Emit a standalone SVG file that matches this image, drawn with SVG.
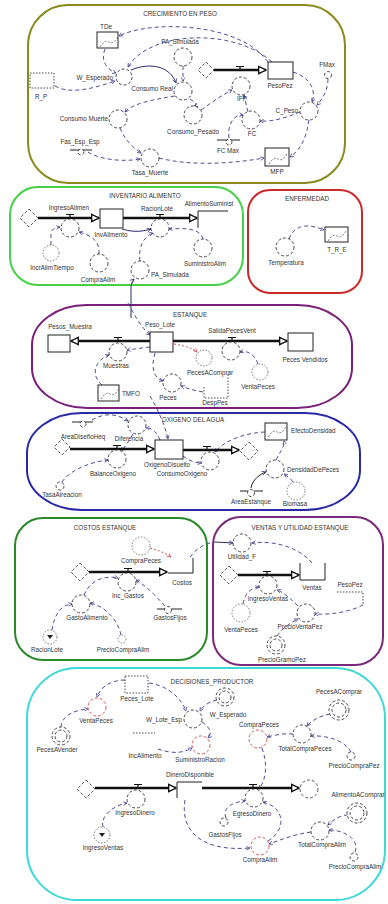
<svg xmlns="http://www.w3.org/2000/svg" xmlns:xlink="http://www.w3.org/1999/xlink" width="388" height="904" viewBox="0 0 388 904">
<style>
.box{fill:none;stroke-width:2}
.t{font-family:"Liberation Sans",Arial,sans-serif;font-size:6.3px;fill:#333;text-anchor:middle}
.s{text-anchor:start}
.e{text-anchor:end}
.aux{fill:#fff;stroke:#333;stroke-width:0.9;stroke-dasharray:3 2}
.gh{fill:#fff;stroke:#555;stroke-width:0.8;stroke-dasharray:1.5 1.5}
.red{stroke:#d04848}
.stock{fill:#fff;stroke:#222;stroke-width:1}
.open{fill:none;stroke:#222;stroke-width:1}
.pipe{fill:none;stroke:#111;stroke-width:2.3}
.valve{fill:none;stroke:#111;stroke-width:1.2}
.cloud{fill:#fff;stroke:#444;stroke-width:0.9;stroke-dasharray:3 2}
.link{fill:none;stroke:#3b3b8c;stroke-width:0.9;stroke-dasharray:4 3}
.rl{fill:none;stroke:#cc4444;stroke-width:0.9;stroke-dasharray:2 2}
.solid{fill:none;stroke:#2a2a6a;stroke-width:1}
.dot{fill:none;stroke:#333;stroke-width:0.9;stroke-dasharray:1.5 1.5}
.gr{fill:#fff;stroke:#222;stroke-width:1}
.grc{fill:none;stroke:#444;stroke-width:0.7;stroke-dasharray:2 1.5}
.con{fill:none;stroke:#222;stroke-width:1}
</style>
<defs>
<marker id="a" viewBox="0 0 10 10" refX="9" refY="5" markerWidth="5" markerHeight="5" orient="auto"><path d="M1,1 L9,5 L1,9" fill="none" stroke="#3b3b8c" stroke-width="1.6"/></marker>
<marker id="ar" viewBox="0 0 10 10" refX="9" refY="5" markerWidth="5" markerHeight="5" orient="auto"><path d="M1,1 L9,5 L1,9" fill="none" stroke="#cc4444" stroke-width="1.6"/></marker>
<marker id="p" viewBox="0 0 10 10" refX="9" refY="5" markerWidth="4" markerHeight="4" orient="auto"><path d="M1,1 L9,5 L1,9 z" fill="#fff" stroke="#111" stroke-width="1.5"/></marker>
<path id="v" d="M-4,-3.5 H4 M0,-3.5 V0"/>
<path id="gc" d="M3,13 Q8,5 12,8 T21,3"/>
</defs>

<!-- Section boxes -->
<g id="sec-crecimiento"><rect class="box" x="28" y="5" width="317" height="178" rx="40" ry="40" stroke="#8a8a1e"/><text class="t" x="180" y="16">CRECIMIENTO EN PESO</text></g>
<g id="sec-inventario"><rect class="box" x="10" y="187" width="233" height="98" rx="28" ry="28" stroke="#48d048"/><text class="t" x="145" y="198">INVENTARIO ALIMENTO</text></g>
<g id="sec-enfermedad"><rect class="box" x="248" y="190" width="114" height="103" rx="22" ry="22" stroke="#cc2a2a"/><text class="t" x="307" y="201">ENFERMEDAD</text></g>
<g id="sec-estanque"><rect class="box" x="32" y="305" width="320" height="103" rx="55" ry="40" stroke="#7a1f7a"/><text class="t" x="190" y="317">ESTANQUE</text></g>
<g id="sec-oxigeno"><rect class="box" x="27" y="413" width="333" height="97" rx="55" ry="40" stroke="#2a2aa8"/><text class="t" x="193" y="422">OXIGENO DEL AGUA</text></g>
<g id="sec-costos"><rect class="box" x="15" y="518" width="192" height="142" rx="28" ry="28" stroke="#2a8a2a"/><text class="t" x="105" y="530">COSTOS ESTANQUE</text></g>
<g id="sec-ventas"><rect class="box" x="213" y="517" width="170" height="148" rx="28" ry="28" stroke="#7a2a7a"/><text class="t" x="300" y="530">VENTAS Y UTILIDAD ESTANQUE</text></g>
<g id="sec-decisiones"><rect class="box" x="27" y="668" width="358" height="232" rx="50" ry="50" stroke="#3dd8d8"/><text class="t" x="212" y="684">DECISIONES_PRODUCTOR</text></g>

<!-- Connectors -->
<g id="connectors">
<!-- crecimiento -->
<path class="link" d="M268,62 C240,22 150,20 119,36" marker-end="url(#a)"/>
<path class="link" d="M272,62 C235,28 150,30 128,67" marker-end="url(#a)"/>
<path class="link" d="M105,49 C100,62 108,70 116,73" marker-end="url(#a)"/>
<path class="link" d="M55,86 C70,95 95,88 115,81" marker-end="url(#a)"/>
<path class="solid" d="M131,70 C150,62 170,66 176,83" marker-end="url(#a)"/>
<path class="link" d="M183,66 L183,81" marker-end="url(#a)"/>
<path class="link" d="M190,99 C198,104 197,105 194,106" marker-end="url(#a)"/>
<path class="link" d="M175,96 C150,100 132,104 125,112" marker-end="url(#a)"/>
<path class="link" d="M120,128 C125,140 133,148 141,153" marker-end="url(#a)"/>
<path class="link" d="M88,152 C100,160 125,162 140,159" marker-end="url(#a)"/>
<path class="link" d="M159,158 C190,166 230,164 264,158" marker-end="url(#a)"/>
<path class="link" d="M201,110 C215,100 224,94 232,90" marker-end="url(#a)"/>
<path class="link" d="M293,72 C312,78 316,92 312,102" marker-end="url(#a)"/>
<path class="link" d="M328,79 C328,90 322,100 317,105" marker-end="url(#a)"/>
<path class="link" d="M309,120 C306,140 300,150 290,157" marker-end="url(#a)"/>
<path class="link" d="M300,112 C285,118 272,122 260,121" marker-end="url(#a)"/>
<path class="link" d="M229,138 C227,125 234,114 243,115" marker-end="url(#a)"/>
<path class="link" d="M248,112 C246,104 245,100 244,95" marker-end="url(#a)"/>
<!-- inventario -->
<path class="link" d="M51,245 L51,234 Q51,228 60,227" marker-end="url(#a)"/>
<path class="link" d="M99,254 C100,240 90,235 79,232" marker-end="url(#a)"/>
<path class="solid" d="M122,229 C135,233 144,231 151,229" marker-end="url(#a)"/>
<path class="link" d="M203,239 C200,228 185,228 169,229" marker-end="url(#a)"/>
<path class="link" d="M140,261 C138,245 145,236 153,233" marker-end="url(#a)"/>
<path class="solid" d="M131,318 L131,286 Q132,281 134,279" marker-end="url(#a)"/>
<!-- enfermedad -->
<path class="link" d="M289,239 C295,223 310,224 324,230" marker-end="url(#a)"/>
<!-- estanque -->
<path class="link" d="M128,303 C136,318 142,328 150,335" marker-end="url(#a)"/>
<path class="link" d="M150,347 C141,348 135,349 127,350" marker-end="url(#a)"/>
<path class="link" d="M102,385 C90,375 95,360 109,355" marker-end="url(#a)"/>
<path class="link" d="M155,353 C150,370 155,378 163,381" marker-end="url(#a)"/>
<path class="link" d="M203,392 C192,390 186,388 181,386" marker-end="url(#a)"/>
<path class="rl" d="M174,344 C185,346 193,348 197,352" marker-end="url(#ar)"/>
<path class="link" d="M258,364 C255,355 248,350 240,352" marker-end="url(#a)"/>
<path class="link" d="M150,396 C158,410 165,425 168,439" marker-end="url(#a)"/>
<!-- oxigeno -->
<path class="link" d="M92,420 C105,412 118,414 128,421" marker-end="url(#a)"/>
<path class="link" d="M160,440 C156,430 151,428 146,428" marker-end="url(#a)"/>
<path class="link" d="M62,482 C70,470 90,462 108,460" marker-end="url(#a)"/>
<path class="link" d="M133,434 C128,443 124,447 122,451" marker-end="url(#a)"/>
<path class="link" d="M265,432 C245,433 225,440 215,452" marker-end="url(#a)"/>
<path class="link" d="M276,460 C280,452 285,446 284,441" marker-end="url(#a)"/>
<path class="con" d="M251,488 C252,480 260,474 266,472" marker-end="url(#a)"/>
<path class="link" d="M293,482 C290,478 287,476 284,474" marker-end="url(#a)"/>
<path class="link" d="M183,456 C190,461 195,463 201,463" marker-end="url(#a)"/>
<!-- costos -->
<path class="rl" d="M150,548 C158,550 165,553 171,557" marker-end="url(#ar)"/>
<path class="link" d="M84,595 C90,580 105,575 118,578" marker-end="url(#a)"/>
<path class="link" d="M165,606 C155,595 145,585 136,580" marker-end="url(#a)"/>
<path class="link" d="M52,630 C55,612 62,605 72,604" marker-end="url(#a)"/>
<path class="link" d="M121,635 C118,620 105,606 90,603" marker-end="url(#a)"/>
<path class="link" d="M190,557 C197,548 205,543 215,542"/>
<path class="solid" d="M215,542 L233,543" marker-end="url(#a)"/>
<!-- ventas -->
<path class="link" d="M312,563 C300,548 275,540 252,543" marker-end="url(#a)"/>
<path class="link" d="M243,604 C245,592 252,588 259,587" marker-end="url(#a)"/>
<path class="link" d="M298,606 C290,598 283,592 277,590" marker-end="url(#a)"/>
<path class="link" d="M277,636 C282,628 292,622 298,619" marker-end="url(#a)"/>
<path class="link" d="M363,605 C350,612 330,615 315,614" marker-end="url(#a)"/>
<!-- decisiones -->
<path class="link" d="M125,680 C110,680 100,688 97,697" marker-end="url(#a)"/>
<path class="link" d="M61,727 C62,715 75,710 88,709" marker-end="url(#a)"/>
<path class="link" d="M149,683 C170,686 182,700 186,711" marker-end="url(#a)"/>
<path class="link" d="M217,700 C208,702 203,706 200,711" marker-end="url(#a)"/>
<path class="link" d="M202,722 C211,728 212,734 208,738" marker-end="url(#a)"/>
<path class="link" d="M158,749 C175,755 185,752 192,748" marker-end="url(#a)"/>
<path class="link" d="M293,734 C285,733 275,735 267,737" marker-end="url(#a)"/>
<path class="link" d="M330,714 C320,716 312,720 307,726" marker-end="url(#a)"/>
<path class="link" d="M351,752 C345,740 325,735 311,736" marker-end="url(#a)"/>
<path class="link" d="M262,748 C268,765 266,780 259,789" marker-end="url(#a)"/>
<path class="link" d="M185,800 C180,830 200,852 250,848" marker-end="url(#a)"/>
<path class="link" d="M226,818 C222,808 232,802 245,801" marker-end="url(#a)"/>
<path class="link" d="M268,841 C286,830 286,808 263,802" marker-end="url(#a)"/>
<path class="link" d="M311,832 C295,834 280,840 269,844" marker-end="url(#a)"/>
<path class="link" d="M348,815 C340,815 333,820 328,825" marker-end="url(#a)"/>
<path class="link" d="M355,852 C360,840 345,830 329,830" marker-end="url(#a)"/>
<path class="link" d="M103,827 C100,815 115,805 127,803" marker-end="url(#a)"/>
</g>

<!-- Pipes -->
<g id="flows">
<path class="pipe" d="M214,70 H266" marker-end="url(#p)"/>
<path class="pipe" d="M38,218 H99" marker-end="url(#p)"/>
<path class="pipe" d="M123,218 H197" marker-end="url(#p)"/>
<path class="pipe" d="M150,341 H71" marker-end="url(#p)"/>
<path class="pipe" d="M173,341 H287" marker-end="url(#p)"/>
<path class="pipe" d="M70,449 H154" marker-end="url(#p)"/>
<path class="pipe" d="M183,450 H239" marker-end="url(#p)"/>
<path class="pipe" d="M89,572 H167" marker-end="url(#p)"/>
<path class="pipe" d="M238,575 H299" marker-end="url(#p)"/>
<path class="pipe" d="M95,788 H176" marker-end="url(#p)"/>
<path class="pipe" d="M202,788 H299" marker-end="url(#p)"/>
<use href="#v" class="valve" x="240" y="70"/>
<use href="#v" class="valve" x="70" y="218"/>
<use href="#v" class="valve" x="160" y="218"/>
<use href="#v" class="valve" x="118" y="341"/>
<use href="#v" class="valve" x="232" y="341"/>
<use href="#v" class="valve" x="117" y="449"/>
<use href="#v" class="valve" x="207" y="450"/>
<use href="#v" class="valve" x="128" y="572"/>
<use href="#v" class="valve" x="267" y="575"/>
<use href="#v" class="valve" x="138" y="788"/>
<use href="#v" class="valve" x="253" y="788"/>
</g>

<!-- CRECIMIENTO nodes -->
<g id="TDe"><rect class="gr" x="97" y="32" width="21" height="16"/><use href="#gc" class="grc" x="97" y="34"/><text class="t" x="106" y="29">TDe</text></g>
<g id="PA_Simulada1"><circle class="aux" cx="183" cy="57" r="9"/><text class="t" x="180" y="44">PA_Simulada</text></g>
<g id="R_P"><rect class="dot" x="30" y="73" width="24" height="15"/><text class="t" x="41" y="99">R_P</text></g>
<g id="W_Esperado1"><circle class="aux" cx="124" cy="77" r="8"/><text class="t e" x="113" y="80">W_Esperado</text></g>
<g id="ConsumoReal"><circle class="aux" cx="183" cy="91" r="9"/><text class="t e" x="173" y="91">Consumo Real</text></g>
<g id="ConsumoMuerte"><circle class="aux" cx="118" cy="119" r="9"/><text class="t e" x="108" y="121">Consumo Muerte</text></g>
<g id="Consumo_Pesado"><circle class="aux" cx="193" cy="115" r="9"/><text class="t" x="193" y="134">Consumo_Pesado</text></g>
<g id="Fas_Esp_Esp"><path class="con" d="M70,150 H92"/><circle class="aux" cx="81" cy="152" r="3"/><text class="t" x="80" y="144">Fas_Esp_Esp</text></g>
<g id="Tasa_Muerte"><circle class="aux" cx="150" cy="158" r="9"/><text class="t" x="150" y="175">Tasa_Muerte</text></g>
<g id="cloud1"><polygon class="cloud" points="206,62 214,70 206,78 198,70"/></g>
<g id="IFP"><circle class="aux" cx="241" cy="86" r="9"/><text class="t" x="242" y="101">IFP</text></g>
<g id="PesoPez"><rect class="stock" x="268" y="62" width="25" height="17"/><text class="t" x="280" y="88">PesoPez</text></g>
<g id="FMax"><circle class="aux" cx="328" cy="75" r="3.5"/><text class="t" x="327" y="67">FMax</text></g>
<g id="C_Peso"><circle class="aux" cx="309" cy="111" r="9"/><text class="t e" x="298" y="113">C_Peso</text></g>
<g id="FC"><circle class="aux" cx="251" cy="120" r="9"/><text class="t" x="252" y="136">FC</text></g>
<g id="FC_Max"><path class="con" d="M217,140 H240"/><circle class="aux" cx="229" cy="142" r="3"/><text class="t" x="228" y="153">FC Max</text></g>
<g id="MFP"><rect class="gr" x="265" y="148" width="24" height="18"/><use href="#gc" class="grc" x="266" y="151"/><text class="t" x="277" y="174">MFP</text></g>

<!-- INVENTARIO nodes -->
<g id="cloud2"><polygon class="cloud" points="29,209 38,218 29,227 20,218"/></g>
<g id="IngresoAlimen"><circle class="aux" cx="70" cy="228" r="9"/><text class="t" x="69" y="210">IngresoAlimen</text></g>
<g id="InvAlimento"><rect class="stock" x="100" y="209" width="23" height="19"/><text class="t" x="111" y="237">InvAlimento</text></g>
<g id="RacionLote1"><circle class="aux" cx="160" cy="228" r="9"/><text class="t" x="157" y="211">RacionLote</text></g>
<g id="AlimentoSuminist"><path class="open" d="M198,228 V211 H228"/><text class="t" x="209" y="206">AlimentoSuminist</text></g>
<g id="IncrAlimTiempo"><circle class="gh" cx="51" cy="253" r="8"/><text class="t" x="52" y="270">IncrAlimTiempo</text></g>
<g id="CompraAlim1"><circle class="aux" cx="99" cy="263" r="9"/><text class="t" x="98" y="282">CompraAlim</text></g>
<g id="SuministroAlim"><circle class="aux" cx="203" cy="248" r="9"/><text class="t" x="205" y="266">SuministroAlim</text></g>
<g id="PA_Simulada2"><circle class="aux" cx="140" cy="270" r="9"/><text class="t s" x="151" y="277">PA_Simulada</text></g>

<!-- ENFERMEDAD nodes -->
<g id="Temperatura"><circle class="aux" cx="285" cy="247" r="9"/><text class="t" x="286" y="265">Temperatura</text></g>
<g id="T_R_E"><rect class="gr" x="325" y="227" width="23" height="15"/><use href="#gc" class="grc" x="325" y="228"/><text class="t" x="337" y="252">T_R_E</text></g>

<!-- ESTANQUE nodes -->
<g id="Pesos_Muestra"><rect class="stock" x="48" y="335" width="22" height="17"/><text class="t" x="70" y="329">Pesos_Muestra</text></g>
<g id="Muestras"><circle class="aux" cx="118" cy="352" r="9"/><text class="t" x="116" y="368">Muestras</text></g>
<g id="Peso_Lote"><rect class="stock" x="150" y="332" width="23" height="20"/><text class="t" x="160" y="327">Peso_Lote</text></g>
<g id="SalidaPecesVent"><circle class="aux" cx="231" cy="351" r="9"/><text class="t" x="232" y="333">SalidaPecesVent</text></g>
<g id="Peces_Vendidos"><rect class="stock" x="288" y="333" width="25" height="18"/><text class="t" x="305" y="362">Peces Vendidos</text></g>
<g id="PecesAComprar1"><circle class="gh" cx="204" cy="358" r="8"/><text class="t" x="210" y="375">PecesAComprar</text></g>
<g id="VentaPeces1"><circle class="gh" cx="260" cy="372" r="8"/><text class="t" x="258" y="389">VentaPeces</text></g>
<g id="TMFO"><rect class="gr" x="98" y="385" width="21" height="16"/><use href="#gc" class="grc" x="98" y="386"/><text class="t s" x="122" y="396">TMFO</text></g>
<g id="Peces"><circle class="aux" cx="172" cy="383" r="9"/><text class="t" x="168" y="400">Peces</text></g>
<g id="DespPes"><path class="dot" d="M204,387 V398 H228 V373"/><text class="t" x="215" y="405">DespPes</text></g>

<!-- OXIGENO nodes -->
<g id="AreaDisenoHeq"><path class="con" d="M72,422 H93"/><circle class="aux" cx="83" cy="424" r="3"/><text class="t" x="83" y="439">AreaDiseñoHeq</text></g>
<g id="cloud3"><polygon class="cloud" points="62,439 70,447 62,455 54,447"/></g>
<g id="BalanceOxigeno"><circle class="aux" cx="117" cy="459" r="9"/><text class="t" x="113" y="476">BalanceOxigeno</text></g>
<g id="Diferencia"><circle class="aux" cx="137" cy="425" r="9"/><text class="t" x="129" y="441">Diferencia</text></g>
<g id="OxigenoDisuelto"><rect class="stock" x="155" y="440" width="28" height="19"/><text class="t" x="167" y="467">OxigenoDisuelto</text></g>
<g id="cloud4"><polygon class="cloud" points="249,442 258,451 249,460 240,451"/></g>
<g id="ConsumoOxigeno"><circle class="aux" cx="210" cy="461" r="9"/><text class="t" x="182" y="476">ConsumoOxigeno</text></g>
<g id="EfectoDensidad"><rect class="gr" x="265" y="423" width="22" height="17"/><use href="#gc" class="grc" x="265" y="424"/><text class="t s" x="291" y="433">EfectoDensidad</text></g>
<g id="DensidadDePeces"><circle class="aux" cx="275" cy="469" r="9"/><text class="t s" x="287" y="472">DensidadDePeces</text></g>
<g id="AreaEstanque"><path class="con" d="M240,491 H263"/><circle class="aux" cx="251" cy="493" r="3.5"/><text class="t" x="251" y="504">AreaEstanque</text></g>
<g id="Biomasa"><circle class="gh" cx="296" cy="491" r="9"/><text class="t" x="295" y="506">Biomasa</text></g>
<g id="TasaAireacion"><circle class="aux" cx="60" cy="486" r="4"/><text class="t" x="62" y="497">TasaAireacion</text></g>

<!-- COSTOS nodes -->
<g id="CompraPeces1"><circle class="gh" cx="141" cy="546" r="9"/><text class="t" x="141" y="563">CompraPeces</text></g>
<g id="Costos"><path class="open" d="M168,573 H193 V558"/><text class="t" x="182" y="585">Costos</text></g>
<g id="cloud5"><polygon class="cloud" points="80,563 89,572 80,581 71,572"/></g>
<g id="Inc_Gastos"><circle class="aux" cx="127" cy="582" r="9"/><text class="t" x="128" y="598">Inc_Gastos</text></g>
<g id="GastoAlimento"><circle class="aux" cx="81" cy="604" r="9"/><text class="t" x="87" y="620">GastoAlimento</text></g>
<g id="GastosFijos1"><path class="con" d="M157,609 H182"/><circle class="aux" cx="168" cy="610" r="3.5"/><text class="t" x="170" y="620">GastosFijos</text></g>
<g id="RacionLote2"><circle class="gh" cx="50" cy="637" r="7"/><path d="M47,635 H53 L50,639 Z" fill="#222"/><text class="t" x="47" y="652">RacionLote</text></g>
<g id="PrecioCompraAlim1"><circle class="gh" cx="122" cy="639" r="4"/><text class="t" x="123" y="652">PrecioCompraAlim</text></g>

<!-- VENTAS nodes -->
<g id="Utilidad_F"><circle class="aux" cx="242" cy="543" r="9"/><text class="t" x="242" y="559">Utilidad_F</text></g>
<g id="cloud6"><polygon class="cloud" points="229,566 238,575 229,584 220,575"/></g>
<g id="IngresoVentas1"><circle class="aux" cx="268" cy="585" r="9"/><text class="t" x="268" y="601">IngresoVentas</text></g>
<g id="Ventas"><path class="open" d="M300,563 V580 H325 V563"/><text class="t" x="312" y="590">Ventas</text></g>
<g id="PesoPez2"><path class="dot" d="M337,592 H363 V605"/><text class="t" x="350" y="587">PesoPez</text></g>
<g id="VentaPeces2"><circle class="gh" cx="241" cy="613" r="9"/><text class="t" x="241" y="632">VentaPeces</text></g>
<g id="PrecioVentaPez"><circle class="aux" cx="306" cy="613" r="9"/><text class="t" x="300" y="629">PrecioVentaPez</text></g>
<g id="PrecioGramoPez"><circle class="aux" cx="276" cy="645" r="9"/><circle class="aux" cx="276" cy="645" r="6"/><text class="t" x="282" y="662">PrecioGramoPez</text></g>

<!-- DECISIONES nodes -->
<g id="Peces_Lote"><rect class="dot" x="125" y="676" width="23" height="17"/><text class="t" x="137" y="701">Peces_Lote</text></g>
<g id="VentaPeces3"><circle class="aux red" cx="97" cy="707" r="9"/><text class="t" x="96" y="723">VentaPeces</text></g>
<g id="PecesAVender"><circle class="aux" cx="61" cy="736" r="9"/><circle class="aux" cx="61" cy="736" r="6"/><text class="t" x="57" y="752">PecesAVender</text></g>
<g id="W_Lote_Esp"><circle class="aux" cx="193" cy="719" r="9"/><text class="t e" x="182" y="722">W_Lote_Esp</text></g>
<g id="W_Esperado2"><circle class="aux" cx="225" cy="697" r="9"/><circle class="aux" cx="225" cy="697" r="6"/><text class="t" x="228" y="717">W_Esperado</text></g>
<g id="dots1"><path class="dot" d="M133,733 H155"/></g>
<g id="IncAlimento"><text class="t" x="145" y="758">IncAlimento</text></g>
<g id="SuministroRacion"><circle class="aux red" cx="201" cy="745" r="9"/><text class="t" x="200" y="762">SuministroRacion</text></g>
<g id="CompraPeces2"><circle class="aux red" cx="258" cy="739" r="9"/><text class="t" x="259" y="727">CompraPeces</text></g>
<g id="TotalCompraPeces"><circle class="aux" cx="302" cy="734" r="9"/><text class="t" x="305" y="751">TotalCompraPeces</text></g>
<g id="PecesAComprar2"><circle class="aux" cx="339" cy="710" r="10"/><circle class="aux" cx="339" cy="710" r="7"/><text class="t" x="339" y="694">PecesAComprar</text></g>
<g id="PrecioCompraPez"><circle class="aux" cx="351" cy="756" r="4"/><text class="t" x="354" y="768">PrecioCompraPez</text></g>
<g id="DineroDisponible"><path class="open" d="M177,798 V782 H202"/><text class="t" x="190" y="777">DineroDisponible</text></g>
<g id="cloud7"><polygon class="cloud" points="86,780 95,789 86,798 77,789"/></g>
<g id="IngresoDinero"><circle class="aux" cx="136" cy="799" r="9"/><text class="t" x="135" y="815">IngresoDinero</text></g>
<g id="EgresoDinero"><circle class="aux" cx="254" cy="798" r="9"/><text class="t" x="252" y="816">EgresoDinero</text></g>
<g id="cloud8"><circle class="cloud" cx="309" cy="789" r="9"/></g>
<g id="AlimentoAComprar"><circle class="aux" cx="357" cy="813" r="10"/><circle class="aux" cx="357" cy="813" r="7"/><text class="t" x="358" y="797">AlimentoAComprar</text></g>
<g id="GastosFijos2"><circle class="aux" cx="224" cy="822" r="4"/><text class="t" x="225" y="837">GastosFijos</text></g>
<g id="CompraAlim2"><circle class="aux red" cx="260" cy="846" r="9"/><text class="t" x="260" y="862">CompraAlim</text></g>
<g id="TotalCompraAlim"><circle class="aux" cx="320" cy="831" r="9"/><text class="t" x="322" y="847">TotalCompraAlim</text></g>
<g id="PrecioCompraAlim2"><circle class="aux" cx="354" cy="857" r="4"/><text class="t" x="355" y="869">PrecioCompraAlim</text></g>
<g id="IngresoVentas2"><circle class="gh" cx="102" cy="835" r="8"/><path d="M99,833 H105 L102,837 Z" fill="#222"/><text class="t" x="103" y="850">IngresoVentas</text></g>
</svg>
